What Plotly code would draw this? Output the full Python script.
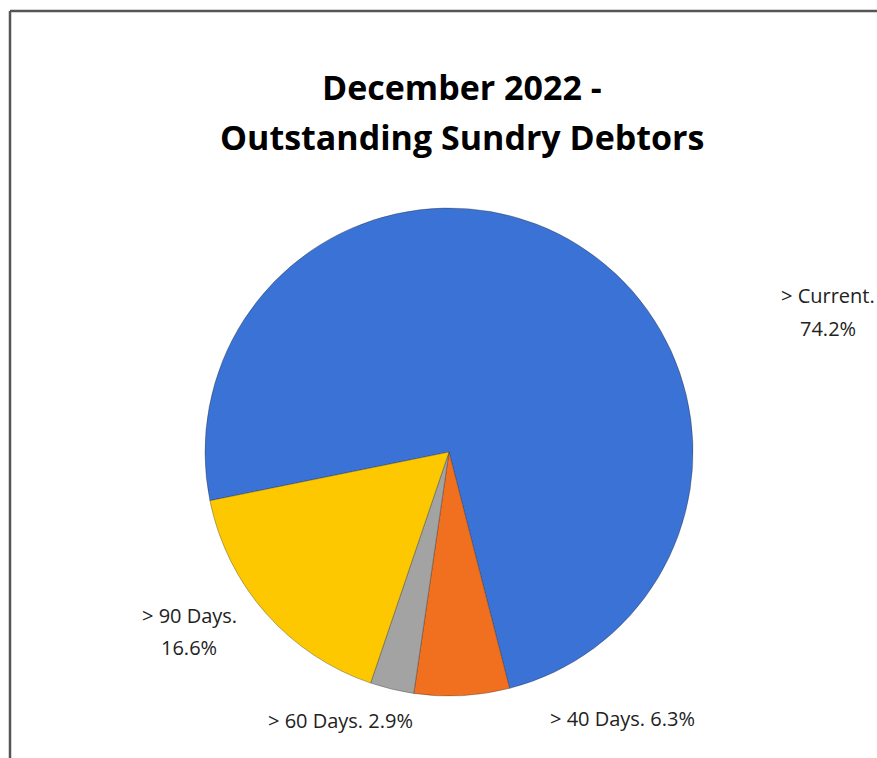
import plotly.graph_objects as go

# Data
categories = ["> Current", "> 40 Days", "> 60 Days", "> 90 Days"]
values = [74.2, 6.3, 2.9, 16.6]
colors = ["#3A72D6", "#F07020", "#A3A3A3", "#FDC800"]

title_lines = ["December 2022 -", "Outstanding Sundry Debtors"]

# label placement (pixel layout positions): x, y, two-line?
label_pos = [(828, 312, True), (622, 718, False), (340, 720, False), (189, 631, True)]

W, H = 877, 758
cx, cy, r = 449, 452, 244

total = sum(values)
fig = go.Figure()
fig.add_trace(go.Pie(
    labels=categories,
    values=values,
    sort=False,
    direction="clockwise",
    rotation=-101.5,
    marker=dict(colors=colors, line=dict(color="rgba(40,40,40,0.35)", width=1)),
    textinfo="none",
    hoverinfo="label+percent",
    showlegend=False,
    domain=dict(x=[(cx - r) / W, (cx + r) / W], y=[(H - cy - r) / H, (H - cy + r) / H]),
))

label_font = dict(family="Open Sans, Arial", size=20, color="#222222")
annotations = []
for cat, v, (px, py, two) in zip(categories, values, label_pos):
    pct = f"{v / total * 100:.1f}%"
    lines = [f"{cat}.", pct] if two else [f"{cat}. {pct}"]
    offs = [-16, 16] if two else [0]
    for ln, off in zip(lines, offs):
        annotations.append(dict(
            x=px / W, y=1 - (py + off) / H, xref="paper", yref="paper",
            text=ln, showarrow=False, xanchor="center", yanchor="middle",
            align="center", font=label_font,
        ))

for i, line in enumerate(title_lines):
    annotations.append(dict(
        x=462 / W, y=1 - (87 + 50 * i) / H, xref="paper", yref="paper",
        text=f"<b>{line}</b>", showarrow=False, xanchor="center", yanchor="middle",
        font=dict(family="Open Sans, Arial", size=34, color="#000000"),
    ))

fig.update_layout(
    width=W, height=H,
    margin=dict(l=0, r=0, t=0, b=0),
    paper_bgcolor="white",
    plot_bgcolor="white",
    annotations=annotations,
    shapes=[
        dict(type="line", xref="paper", yref="paper", x0=10 / W, x1=10 / W, y0=0, y1=1 - 11 / H,
             line=dict(color="#555555", width=2.5)),
        dict(type="line", xref="paper", yref="paper", x0=10 / W, x1=1, y0=1 - 11 / H, y1=1 - 11 / H,
             line=dict(color="#555555", width=2.5)),
    ],
)

fig.write_html("out.html")
